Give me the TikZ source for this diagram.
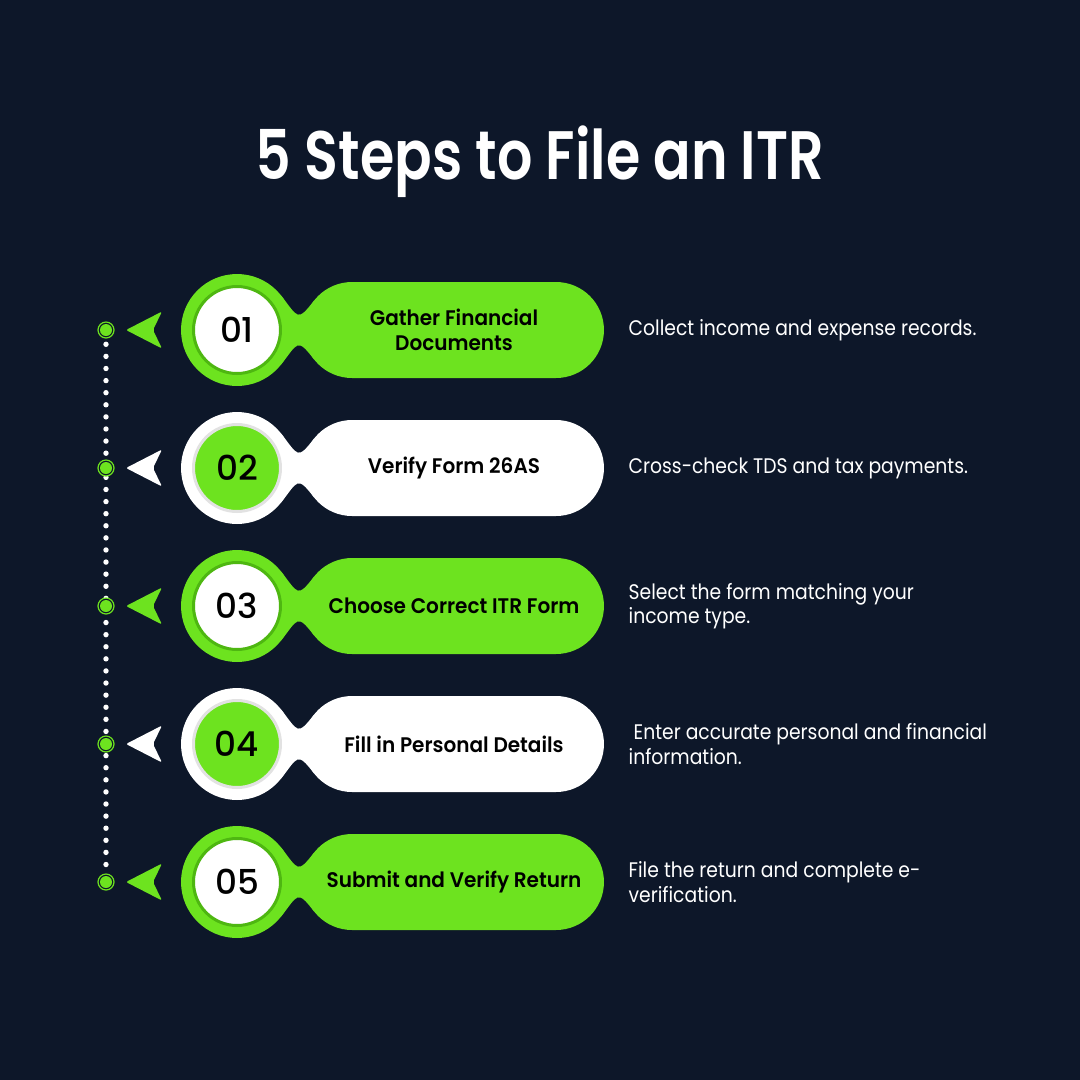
\documentclass[tikz,border=0pt]{standalone}
\usepackage{fontspec}
\setmainfont{Poppins}[FakeStretch = 0.89]
\newfontfamily\labelfont{Poppins SemiBold}[FakeStretch = 0.95]
\newfontfamily\numfont{Poppins Medium}
\newfontfamily\headfont{Poppins SemiBold}[FakeStretch = 0.81]
\usetikzlibrary{positioning,calc}
\definecolor{navy}{RGB}{13,23,41}
\definecolor{grn}{RGB}{109,227,31}
\definecolor{dkgrn}{RGB}{78,183,17}
\definecolor{ltgrey}{RGB}{226,226,226}
\tikzstyle{disc} = [
    circle,
    inner sep = 0pt,
    minimum size = 2.24cm
]
\tikzstyle{core} = [
    circle,
    inner sep = 0pt,
    line width = 0.06cm,
    minimum size = 1.74cm,
    font = \numfont\fontsize{19.5}{19.5}\selectfont
]
\tikzstyle{pill} = [
    rectangle,
    text centered,
    align = center,
    rounded corners = 0.96cm,
    minimum width = 6cm,
    minimum height = 1.92cm,
    font = \labelfont\fontsize{12}{14.2}\selectfont
]
\tikzstyle{spot} = [
    circle,
    draw = grn,
    fill = navy,
    line width = 0.024cm,
    inner sep = 0pt,
    minimum size = 0.32cm
]
\tikzstyle{note} = [
    text = white,
    align = left,
    inner sep = 0pt,
    font = \fontsize{12}{13.8}\selectfont
]
\tikzstyle{heading} = [
    text = white,
    anchor = base,
    font = \headfont\fontsize{39}{45}\selectfont
]
\tikzstyle{dotline} = [
    white,
    line width = 0.108cm,
    line cap = round,
    dash pattern = on 0pt off 0.242cm,
    dash phase = 0.198cm
]
% one step: number, y, body colour, core colour, ring colour, label, note
\newcommand{\itrstep}[7]{
    \node[spot] (d#1) at (m#1) {};
    \fill[grn] (d#1.center) circle (6);
    \fill[#3, rounded corners = 0.04cm] (126,-#2) -- (162,-#2+18.5) -- (153,-#2) -- (162,-#2-18.5) -- cycle;
    \node[disc, fill = #3] (c#1) at (237,-#2) {};
    \node[pill, fill = #3] (p#1) at (454,-#2) {#6};
    \coordinate (l#1) at (352,-#2);
    \fill[#3] ($(c#1.center)+(38:56)$) .. controls +(-52:28) and +(232:28) .. ($(l#1)+(142:48)$)
        -- ($(l#1)+(218:48)$) .. controls +(128:28) and +(52:28) .. ($(c#1.center)+(-38:56)$) -- cycle;
    \node[core, fill = #4, draw = #5] (i#1) at (c#1) {0#1};
    \node[note, right = 0.48cm of p#1] (t#1) {#7};
}
\begin{document}
\begin{tikzpicture}[x = 0.02cm, y = 0.02cm]
    \fill[navy] (0,0) rectangle (1080,-1080);
    \node[heading] (head) at (540,-179) {5 Steps to File an ITR};
    \foreach \n/\y in {1/330, 2/468, 3/606, 4/744, 5/882}
        \coordinate (m\n) at (106,-\y);
    \draw[dotline] (m1) -- (m5);
    \itrstep{1}{330}{grn}{white}{dkgrn}{Gather Financial\\Documents}{Collect income and expense records.}
    \itrstep{2}{468}{white}{grn}{ltgrey}{Verify Form 26AS}{Cross-check TDS and tax payments.}
    \itrstep{3}{606}{grn}{white}{dkgrn}{Choose Correct ITR Form}{Select the form matching your\\income type.}
    \itrstep{4}{744}{white}{grn}{ltgrey}{Fill in Personal Details}{\hspace*{0.1cm}Enter accurate personal and financial\\information.}
    \itrstep{5}{882}{grn}{white}{dkgrn}{Submit and Verify Return}{File the return and complete e-\\verification.}
\end{tikzpicture}
\end{document}
